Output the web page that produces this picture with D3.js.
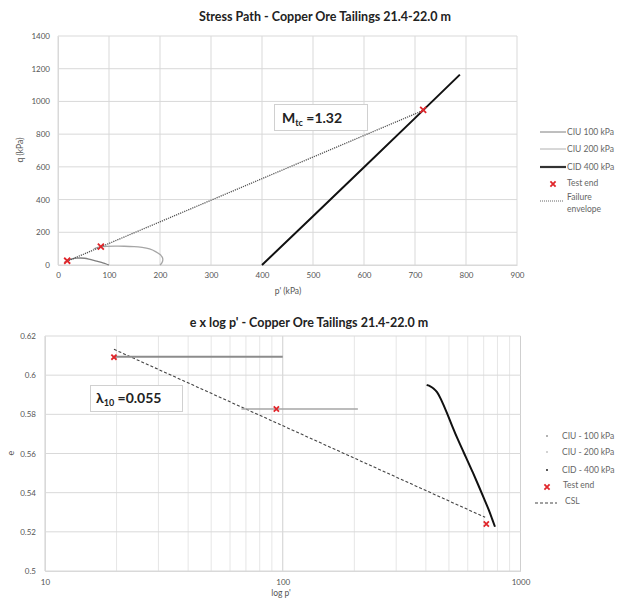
<!DOCTYPE html>
<html>
<head>
<meta charset="utf-8">
<script src="https://cdn.jsdelivr.net/npm/d3@7"></script>
<style>
  body { margin: 0; background: #fff; }
  svg { font-family: Lato, "Open Sans", sans-serif; }
</style>
</head>
<body>
<div id="vis"></div>
<script>
// ---- stress path data (p', q in kPa)
const ciu100P = [100, 95, 88, 80, 70, 60, 52, 44, 36, 28, 22, 18];
const ciu100Q = [0, 6, 13, 20, 29, 37, 42, 43, 42, 38, 32, 27];
const ciu200P = [200, 204, 206, 205, 200, 192, 180, 165, 150, 130, 110, 95, 84, 76, 70];
const ciu200Q = [0, 12, 30, 48, 65, 82, 100, 108, 113, 115, 115, 114, 113, 106, 98];
const cid400P = [400, 500, 600, 700, 788];
const cid400Q = [0, 298, 598, 898, 1164];
const endP = [18, 84, 716];
const endQ = [26, 113, 948];
const envP = [13, 716];
const envQ = [17, 945];
const pTicks = [0, 100, 200, 300, 400, 500, 600, 700, 800, 900];
const qTicks = [0, 200, 400, 600, 800, 1000, 1200, 1400];

// ---- e x log p' data
const ciu100LogP = [19.5, 100];
const ciu100E = [0.6094, 0.6094];
const ciu200LogP = [67, 207];
const ciu200E = [0.5827, 0.5827];
const cid400LogP = [403, 418, 430, 446, 460, 490, 517, 550, 588, 628, 669, 705, 737, 760, 781];
const cid400E = [0.595, 0.5944, 0.5933, 0.5916, 0.5885, 0.581, 0.5737, 0.566, 0.5584, 0.5508, 0.5431, 0.5365, 0.5311, 0.5265, 0.5226];
const endLogP = [19.5, 94, 718];
const endE = [0.6092, 0.5827, 0.524];
const cslP = [19.5, 710];
const cslE = [0.6132, 0.5274];
const logTicks = [10, 100, 1000];
const eTicks = [0.5, 0.52, 0.54, 0.56, 0.58, 0.6, 0.62];

const svg = d3.select("#vis").append("svg")
    .attr("width", 617)
    .attr("height", 599);

const gridCol = "#d9d9d9";
const red = "#e0262b";

function cross(g, x, y, s) {
  g.append("path")
      .attr("d", `M${x - s},${y - s}L${x + s},${y + s}M${x - s},${y + s}L${x + s},${y - s}`)
      .attr("stroke", red)
      .attr("stroke-width", 1.8);
}

//---------------- top chart
const x1 = d3.scaleLinear().domain([0, 900]).range([58, 517]);
const y1 = d3.scaleLinear().domain([0, 1400]).range([265, 36]);
const gTop = svg.append("g");

gTop.append("text")
    .attr("x", 325).attr("y", 21)
    .attr("text-anchor", "middle")
    .attr("font-size", 12.5).attr("font-weight", "bold").attr("fill", "#222")
    .text("Stress Path - Copper Ore Tailings 21.4-22.0 m");

gTop.append("g").selectAll("line").data(pTicks).join("line")
    .attr("x1", d => x1(d)).attr("x2", d => x1(d))
    .attr("y1", y1(0)).attr("y2", y1(1400))
    .attr("stroke", gridCol);
gTop.append("g").selectAll("line").data(qTicks).join("line")
    .attr("x1", x1(0)).attr("x2", x1(900))
    .attr("y1", d => y1(d)).attr("y2", d => y1(d))
    .attr("stroke", gridCol);

const xAx1 = gTop.append("g").attr("transform", `translate(0,${y1(0)})`)
    .call(d3.axisBottom(x1).tickValues(pTicks).tickFormat(d3.format("d")).tickSize(0).tickPadding(7));
const yAx1 = gTop.append("g").attr("transform", `translate(${x1(0)},0)`)
    .call(d3.axisLeft(y1).tickValues(qTicks).tickFormat(d3.format("d")).tickSize(0).tickPadding(8));
[xAx1, yAx1].forEach(a => {
  a.select(".domain").attr("stroke", gridCol);
  a.selectAll("text").attr("font-size", 8).attr("fill", "#555").attr("font-family", "Lato, sans-serif");
});

gTop.append("text").attr("x", 288).attr("y", 294)
    .attr("text-anchor", "middle").attr("font-size", 8.5).attr("fill", "#555")
    .text("p' (kPa)");
gTop.append("text")
    .attr("transform", "translate(23,150) rotate(-90)")
    .attr("text-anchor", "middle").attr("font-size", 8.5).attr("fill", "#555")
    .text("q (kPa)");

const line1 = d3.line().x(d => x1(d[0])).y(d => y1(d[1])).curve(d3.curveBasis);
const zip = (a, b) => a.map((v, i) => [v, b[i]]);

gTop.append("path").datum(zip(ciu100P, ciu100Q))
    .attr("d", line1).attr("fill", "none").attr("stroke", "#7f7f7f").attr("stroke-width", 1.3);
gTop.append("path").datum(zip(ciu200P, ciu200Q))
    .attr("d", line1).attr("fill", "none").attr("stroke", "#a6a6a6").attr("stroke-width", 1.3);
gTop.append("path").datum(zip(cid400P, cid400Q))
    .attr("d", d3.line().x(d => x1(d[0])).y(d => y1(d[1])))
    .attr("fill", "none").attr("stroke", "#111").attr("stroke-width", 2);
gTop.append("path").datum(zip(envP, envQ))
    .attr("d", d3.line().x(d => x1(d[0])).y(d => y1(d[1])))
    .attr("fill", "none").attr("stroke", "#555").attr("stroke-width", 1.3)
    .attr("stroke-dasharray", "1.2,1");
endP.forEach((p, i) => cross(gTop, x1(p), y1(endQ[i]), 3));

// Mtc box
gTop.append("rect").attr("x", 274.5).attr("y", 104.5).attr("width", 93).attr("height", 26)
    .attr("fill", "#fff").attr("stroke", "#d0d0d0");
const mt = gTop.append("text").attr("x", 282).attr("y", 123)
    .attr("font-size", 14).attr("font-weight", "bold").attr("fill", "#222");
mt.append("tspan").text("M");
mt.append("tspan").attr("font-size", 9).attr("dy", 3).text("tc");
mt.append("tspan").attr("dy", -3).text(" =1.32");

// legend top
const lg1 = gTop.append("g").attr("font-size", 8.5).attr("fill", "#666");
const leg1 = [
  {t: "CIU 100 kPa", c: "#7f7f7f", w: 1, y: 132},
  {t: "CIU 200 kPa", c: "#b0b0b0", w: 1, y: 149},
  {t: "CID 400 kPa", c: "#333", w: 2.2, y: 167}
];
leg1.forEach(d => {
  lg1.append("line").attr("x1", 540).attr("x2", 566).attr("y1", d.y).attr("y2", d.y)
      .attr("stroke", d.c).attr("stroke-width", d.w);
  lg1.append("text").attr("x", 567).attr("y", d.y + 3).attr("fill", "#666").text(d.t);
});
cross(lg1, 553, 184, 2.6);
lg1.append("text").attr("x", 567).attr("y", 186).attr("fill", "#666").text("Test end");
lg1.append("line").attr("x1", 540).attr("x2", 563).attr("y1", 201).attr("y2", 201)
    .attr("stroke", "#666").attr("stroke-width", 1).attr("stroke-dasharray", "1,1");
lg1.append("text").attr("x", 567).attr("y", 200).attr("fill", "#666").text("Failure");
lg1.append("text").attr("x", 567).attr("y", 212).attr("fill", "#666").text("envelope");

//---------------- bottom chart
const x2 = d3.scaleLog().domain([10, 1000]).range([45, 520.5]);
const y2 = d3.scaleLinear().domain([0.5, 0.62]).range([571, 336]);
const gBot = svg.append("g");

gBot.append("text")
    .attr("x", 309).attr("y", 327)
    .attr("text-anchor", "middle")
    .attr("font-size", 12.5).attr("font-weight", "bold").attr("fill", "#222")
    .text("e x log p' - Copper Ore Tailings 21.4-22.0 m");

const minor = [];
[10, 100].forEach(b => { for (let k = 2; k <= 9; k++) minor.push(b * k); });
gBot.append("g").selectAll("line").data(minor).join("line")
    .attr("x1", d => x2(d)).attr("x2", d => x2(d))
    .attr("y1", y2(0.5)).attr("y2", y2(0.62))
    .attr("stroke", "#e6e6e6");
gBot.append("g").selectAll("line").data(logTicks).join("line")
    .attr("x1", d => x2(d)).attr("x2", d => x2(d))
    .attr("y1", y2(0.5)).attr("y2", y2(0.62))
    .attr("stroke", "#cfcfcf");
gBot.append("g").selectAll("line").data(eTicks).join("line")
    .attr("x1", x2(10)).attr("x2", x2(1000))
    .attr("y1", d => y2(d)).attr("y2", d => y2(d))
    .attr("stroke", gridCol);

const xAx2 = gBot.append("g").attr("transform", `translate(0,${y2(0.5)})`)
    .call(d3.axisBottom(x2).tickValues(logTicks).tickFormat(d3.format("d")).tickSize(0).tickPadding(8));
const yAx2 = gBot.append("g").attr("transform", `translate(${x2(10)},0)`)
    .call(d3.axisLeft(y2).tickValues(eTicks).tickFormat(d => d === 0.5 ? "0.5" : d === 0.6 ? "0.6" : d3.format(".2f")(d)).tickSize(0).tickPadding(9));
[xAx2, yAx2].forEach(a => {
  a.select(".domain").attr("stroke", gridCol);
  a.selectAll("text").attr("font-size", 8).attr("fill", "#555").attr("font-family", "Lato, sans-serif");
});

gBot.append("text").attr("x", 281).attr("y", 596)
    .attr("text-anchor", "middle").attr("font-size", 8.5).attr("fill", "#555")
    .text("log p'");
gBot.append("text")
    .attr("transform", "translate(14,453) rotate(-90)")
    .attr("text-anchor", "middle").attr("font-size", 9).attr("fill", "#555")
    .text("e");

const line2 = d3.line().x(d => x2(d[0])).y(d => y2(d[1]));
gBot.append("path").datum(zip(cslP, cslE))
    .attr("d", line2).attr("fill", "none").attr("stroke", "#444").attr("stroke-width", 1.1)
    .attr("stroke-dasharray", "3,2");
gBot.append("path").datum(zip(ciu100LogP, ciu100E))
    .attr("d", line2).attr("fill", "none").attr("stroke", "#8c8c8c").attr("stroke-width", 1.8);
gBot.append("path").datum(zip(ciu200LogP, ciu200E))
    .attr("d", line2).attr("fill", "none").attr("stroke", "#a6a6a6").attr("stroke-width", 1.6);
gBot.append("path").datum(zip(cid400LogP, cid400E))
    .attr("d", line2.curve(d3.curveBasis)).attr("fill", "none").attr("stroke", "#111").attr("stroke-width", 2);
endLogP.forEach((p, i) => cross(gBot, x2(p), y2(endE[i]), 2.6));

// lambda box
gBot.append("rect").attr("x", 90.5).attr("y", 385.5).attr("width", 92).attr("height", 26)
    .attr("fill", "#fff").attr("stroke", "#d0d0d0");
const lt = gBot.append("text").attr("x", 96).attr("y", 403)
    .attr("font-size", 14).attr("font-weight", "bold").attr("fill", "#222");
lt.append("tspan").text("λ");
lt.append("tspan").attr("font-size", 9).attr("dy", 3).text("10");
lt.append("tspan").attr("dy", -3).text(" =0.055");

// legend bottom
const lg2 = gBot.append("g").attr("font-size", 8.5);
const leg2 = [
  {t: "CIU - 100 kPa", c: "#9a9a9a", y: 436},
  {t: "CIU - 200 kPa", c: "#c4c4c4", y: 452},
  {t: "CID - 400 kPa", c: "#222", y: 470}
];
leg2.forEach(d => {
  lg2.append("circle").attr("cx", 547).attr("cy", d.y).attr("r", 1).attr("fill", d.c);
  lg2.append("text").attr("x", 562).attr("y", d.y + 3).attr("fill", "#666").text(d.t);
});
cross(lg2, 547, 487, 2.6);
lg2.append("text").attr("x", 563).attr("y", 488).attr("fill", "#666").text("Test end");
lg2.append("line").attr("x1", 535).attr("x2", 557).attr("y1", 503).attr("y2", 503)
    .attr("stroke", "#444").attr("stroke-width", 1.1).attr("stroke-dasharray", "3,2");
lg2.append("text").attr("x", 565).attr("y", 504).attr("fill", "#666").text("CSL");
</script>
</body>
</html>
